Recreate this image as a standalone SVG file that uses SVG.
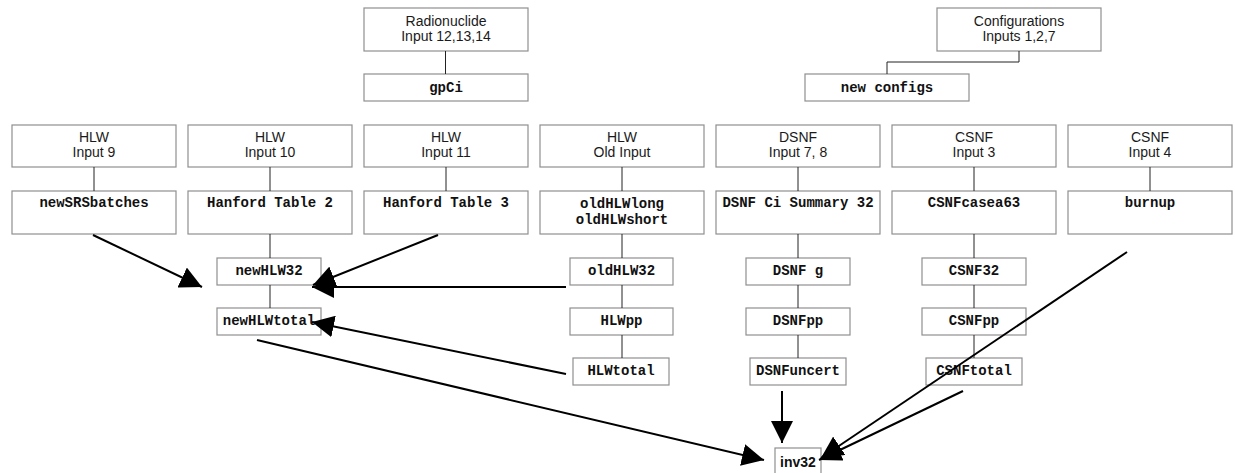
<svg xmlns="http://www.w3.org/2000/svg" width="1235" height="473" viewBox="0 0 1235 473">
<style>
.b{fill:#fff;stroke:#8f8f8f;stroke-width:1.2}
.s{font-family:"Liberation Sans",Arial,sans-serif;font-size:14px;fill:#1a1a1a;text-anchor:middle}
.m{font-family:"Liberation Mono","Courier New",monospace;font-size:14px;font-weight:bold;fill:#111;text-anchor:middle}
.k{font-family:"Liberation Sans",Arial,sans-serif;font-size:14px;font-weight:bold;fill:#111;text-anchor:middle}
.c{fill:none;stroke:#222;stroke-width:1}
.a{fill:none;stroke:#000;stroke-width:2;marker-end:url(#ah)}
</style>
<defs>
<marker id="ah" markerUnits="userSpaceOnUse" markerWidth="22" markerHeight="22" refX="20" refY="10" orient="auto" viewBox="0 0 20 20">
<path d="M0,0 L20,10 L0,20 z" fill="#000"/>
</marker>
</defs>
<rect width="1235" height="473" fill="#fff"/>
<g id="radionuclide"><rect class="b" x="364" y="8" width="164" height="43"/><text class="s" x="446" y="26">Radionuclide</text><text class="s" x="446" y="41">Input 12,13,14</text></g>
<g id="gpCi"><rect class="b" x="364" y="74" width="164" height="27"/><text class="m" x="446" y="92">gpCi</text></g>
<g id="configurations"><rect class="b" x="937" y="8" width="164" height="43"/><text class="s" x="1019" y="26">Configurations</text><text class="s" x="1019" y="41">Inputs 1,2,7</text></g>
<g id="newconfigs"><rect class="b" x="805" y="74" width="164" height="27"/><text class="m" x="887" y="92">new configs</text></g>

<g id="hlw9"><rect class="b" x="12" y="125" width="164" height="42"/><text class="s" x="94" y="142">HLW</text><text class="s" x="94" y="157">Input 9</text></g>
<g id="hlw10"><rect class="b" x="188" y="125" width="164" height="42"/><text class="s" x="270" y="142">HLW</text><text class="s" x="270" y="157">Input 10</text></g>
<g id="hlw11"><rect class="b" x="364" y="125" width="164" height="42"/><text class="s" x="446" y="142">HLW</text><text class="s" x="446" y="157">Input 11</text></g>
<g id="hlwold"><rect class="b" x="540" y="125" width="164" height="42"/><text class="s" x="622" y="142">HLW</text><text class="s" x="622" y="157">Old Input</text></g>
<g id="dsnf78"><rect class="b" x="716" y="125" width="164" height="42"/><text class="s" x="798" y="142">DSNF</text><text class="s" x="798" y="157">Input 7, 8</text></g>
<g id="csnf3"><rect class="b" x="892" y="125" width="164" height="42"/><text class="s" x="974" y="142">CSNF</text><text class="s" x="974" y="157">Input 3</text></g>
<g id="csnf4"><rect class="b" x="1068" y="125" width="164" height="42"/><text class="s" x="1150" y="142">CSNF</text><text class="s" x="1150" y="157">Input 4</text></g>

<g id="newSRSbatches"><rect class="b" x="12" y="191" width="164" height="43"/><text class="m" x="94" y="207">newSRSbatches</text></g>
<g id="hanford2"><rect class="b" x="188" y="191" width="164" height="43"/><text class="m" x="270" y="207">Hanford Table 2</text></g>
<g id="hanford3"><rect class="b" x="364" y="191" width="164" height="43"/><text class="m" x="446" y="207">Hanford Table 3</text></g>
<g id="oldHLWlong"><rect class="b" x="540" y="191" width="164" height="43"/><text class="m" x="622" y="208">oldHLWlong</text><text class="m" x="622" y="224">oldHLWshort</text></g>
<g id="dsnfci"><rect class="b" x="716" y="191" width="164" height="43"/><text class="m" x="798" y="207">DSNF Ci Summary 32</text></g>
<g id="csnfcasea63"><rect class="b" x="892" y="191" width="164" height="43"/><text class="m" x="974" y="207">CSNFcasea63</text></g>
<g id="burnup"><rect class="b" x="1068" y="191" width="164" height="43"/><text class="m" x="1150" y="207">burnup</text></g>

<g id="newHLW32"><rect class="b" x="217" y="258" width="104" height="27"/><text class="m" x="269" y="275">newHLW32</text></g>
<g id="newHLWtotal"><rect class="b" x="217" y="308" width="104" height="27"/><text class="m" x="269" y="325">newHLWtotal</text></g>
<g id="oldHLW32"><rect class="b" x="570" y="258" width="103" height="27"/><text class="m" x="621.5" y="275">oldHLW32</text></g>
<g id="HLWpp"><rect class="b" x="570" y="308" width="103" height="27"/><text class="m" x="621.5" y="325">HLWpp</text></g>
<g id="HLWtotal"><rect class="b" x="573" y="358" width="96" height="27"/><text class="m" x="621" y="375">HLWtotal</text></g>
<g id="DSNFg"><rect class="b" x="746" y="258" width="104" height="27"/><text class="m" x="798" y="275">DSNF g</text></g>
<g id="DSNFpp"><rect class="b" x="746" y="308" width="104" height="27"/><text class="m" x="798" y="325">DSNFpp</text></g>
<g id="DSNFuncert"><rect class="b" x="750" y="358" width="96" height="27"/><text class="m" x="798" y="375">DSNFuncert</text></g>
<g id="CSNF32"><rect class="b" x="922" y="258" width="104" height="27"/><text class="m" x="974" y="275">CSNF32</text></g>
<g id="CSNFpp"><rect class="b" x="922" y="308" width="104" height="27"/><text class="m" x="974" y="325">CSNFpp</text></g>
<g id="CSNFtotal"><rect class="b" x="926" y="358" width="96" height="27"/><text class="m" x="974" y="375">CSNFtotal</text></g>
<g id="inv32"><rect class="b" x="775" y="448" width="46" height="30"/><text class="k" x="798" y="467">inv32</text></g>

<g id="connectors">
<path class="c" d="M445.5,51 V74"/>
<path class="c" d="M1019,51 V62 H887 V74"/>
<path class="c" d="M94,167 V191 M270,167 V191 M446,167 V191 M622,167 V191 M798,167 V191 M974,167 V191 M1150,167 V191"/>
<path class="c" d="M270,234 V258 M270,285 V308"/>
<path class="c" d="M622,234 V258 M622,285 V308 M622,335 V358"/>
<path class="c" d="M798,234 V258 M798,285 V308 M798,335 V358"/>
<path class="c" d="M974,234 V258 M974,285 V308 M974,335 V358"/>
<line class="a" x1="93" y1="235" x2="202" y2="287"/>
<line class="a" x1="438" y1="235" x2="313" y2="285"/>
<line class="a" x1="566" y1="287" x2="312" y2="287"/>
<line class="a" x1="566" y1="374" x2="312" y2="322"/>
<line class="a" x1="257" y1="340" x2="764" y2="460"/>
<line class="a" x1="782" y1="391" x2="782" y2="443"/>
<line class="a" x1="963" y1="391" x2="819" y2="460"/>
<line class="a" x1="1127" y1="252" x2="821" y2="458"/>
</g>
</svg>
